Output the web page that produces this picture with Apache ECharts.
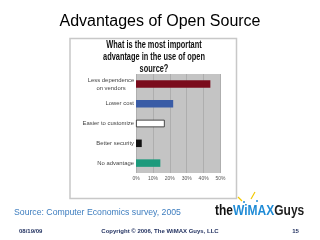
<!DOCTYPE html>
<html><head><meta charset="utf-8">
<script src="https://cdn.jsdelivr.net/npm/echarts@6/dist/echarts.min.js"></script>
<style>html,body{margin:0;padding:0;background:#fff}#c{width:320px;height:240px}</style>
</head><body><div id="c"></div>
<script>
var categories = ['Less dependence\non vendors', 'Lower cost', 'Easier to customize', 'Better security', 'No advantage'];
var values = [44, 22, 17, 3.4, 14.4];
var barColors = ['#7a0c1c', '#3a5ca6', '#ffffff', '#111111', '#1d9a7c'];
var tickValues = [0, 10, 20, 30, 40, 50];
var titleText = 'Advantages of Open Source';
var chartTitle = 'What is the most important\nadvantage in the use of open\nsource?';
var sourceText = 'Source: Computer Economics survey, 2005';
var footerDate = '08/19/09';
var footerCopy = 'Copyright \u00a9 2006, The WiMAX Guys, LLC';
var footerPage = '15';

var chart = echarts.init(document.getElementById('c'), null, {renderer: 'canvas'});
chart.setOption({
  backgroundColor: '#ffffff',
  animation: false,
  graphic: [
    {type: 'rect', z: -10, shape: {x: 70, y: 38.5, width: 166.5, height: 160}, style: {fill: '#ffffff', stroke: '#c8c8c8', lineWidth: 1.5}},
    {type: 'text', left: 'center', top: 14, style: {text: titleText, font: '16px "Liberation Sans", Arial, sans-serif', fill: '#000'}},
    {type: 'text', x: 154, y: 39, scaleX: 0.74, originX: 0, style: {text: chartTitle, align: 'center', font: 'bold 10px "Liberation Sans", Arial, sans-serif', lineHeight: 12, fill: '#111'}},
    {type: 'text', x: 14, y: 208, style: {text: sourceText, font: '8.7px "Liberation Sans", Arial, sans-serif', fill: '#3d7dbf'}},
    {type: 'text', x: 215, y: 203.5, scaleX: 0.8, style: {text: '{a|the}{b|WiMAX}{c|Guys}', font: 'bold 15px "Liberation Sans", sans-serif', rich: {
      a: {fill: '#111', font: 'bold 15px "Liberation Sans", sans-serif'},
      b: {fill: '#1f8bd6', font: 'bold 15px "Liberation Sans", sans-serif'},
      c: {fill: '#1c1c1c', font: 'bold 15px "Liberation Sans", sans-serif'}
    }}},
    {type: 'line', shape: {x1: 238, y1: 197, x2: 242, y2: 201}, style: {stroke: '#f2c800', lineWidth: 1.2}},
    {type: 'line', shape: {x1: 255, y1: 192, x2: 251, y2: 199}, style: {stroke: '#f2c800', lineWidth: 1.2}},
    {type: 'circle', shape: {cx: 244, cy: 202, r: 1}, style: {fill: '#1f8bd6'}},
    {type: 'circle', shape: {cx: 257, cy: 201, r: 1}, style: {fill: '#1f8bd6'}},
    {type: 'text', x: 19, y: 228.5, style: {text: footerDate, font: 'bold 6px "Liberation Sans", Arial, sans-serif', fill: '#1c2c5c'}},
    {type: 'text', x: 160, y: 228.5, style: {text: footerCopy, align: 'center', font: 'bold 6px "Liberation Sans", Arial, sans-serif', fill: '#1c2c5c'}},
    {type: 'text', x: 295.5, y: 228.5, style: {text: footerPage, align: 'center', font: 'bold 6px "Liberation Sans", Arial, sans-serif', fill: '#1c2c5c'}}
  ],
  grid: {left: 136, right: 99.5, top: 74, bottom: 67, show: true, backgroundColor: '#c4c4c4', borderWidth: 0},
  xAxis: {
    type: 'value', min: 0, max: 50, interval: 10,
    axisLine: {show: false}, axisTick: {show: false},
    splitLine: {show: true, lineStyle: {color: '#aeaeae', width: 1}},
    axisLabel: {margin: 3, fontSize: 5, color: '#555', fontFamily: '"Liberation Sans", Arial, sans-serif', formatter: function (v) { return v + '%'; }}
  },
  yAxis: {
    type: 'category', data: categories, inverse: true,
    axisLine: {show: false}, axisTick: {show: false},
    axisLabel: {margin: 2, color: '#444', fontFamily: '"Liberation Sans", Arial, sans-serif', fontSize: 5.9, lineHeight: 8,
      formatter: function (v) {
        var parts = v.split('\n');
        if (parts.length === 1) { return v; }
        return parts.map(function (s) { return '{t|' + s + '}'; }).join('\n');
      },
      rich: {t: {width: 46, align: 'center', fontSize: 5.9, color: '#444', lineHeight: 8}}
    }
  },
  series: [{
    type: 'bar', barWidth: 7.5,
    data: values.map(function (v, i) {
      return {value: v, itemStyle: {color: barColors[i], borderColor: i === 2 ? '#222' : barColors[i], borderWidth: i === 2 ? 0.8 : 0}};
    })
  }]
});
</script></body></html>
